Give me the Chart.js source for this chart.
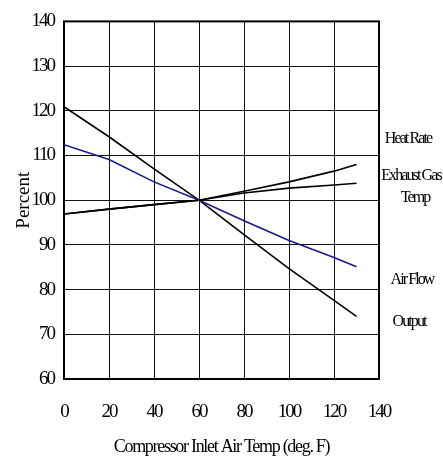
<!DOCTYPE html>
<html>
<head>
<meta charset="utf-8">
<script src="https://cdn.jsdelivr.net/npm/chart.js@4/dist/chart.umd.min.js"></script>
<style>
  html, body { margin: 0; padding: 0; background: #fff; }
  #wrap { width: 443px; height: 460px; }
</style>
</head>
<body>
<div id="wrap"><canvas id="c" width="443" height="460"></canvas></div>
<script>
// ---- data ----
const temps = [0, 20, 40, 60, 80, 100, 120, 130];
const heatRate = [96.9, 98.0, 99.0, 100, 102.0, 104.1, 106.5, 108.0];
const exhaustGasTemp = [96.9, 98.0, 99.0, 100, 101.6, 102.7, 103.4, 103.8];
const airFlow = [112.4, 109.1, 104.1, 100, 95.4, 91.0, 87.2, 85.1];
const output = [120.9, 114.2, 107.0, 100, 92.3, 84.7, 77.6, 74.0];
const xTicks = [0, 20, 40, 60, 80, 100, 120, 140];
const yTicks = [60, 70, 80, 90, 100, 110, 120, 130, 140];
const seriesLabels = ['Heat Rate', 'Exhaust Gas\nTemp', 'Air Flow', 'Output'];
const labelValues = [113.7, 103.0, 82.1, 72.7];

// ---- styling ----
const FONT = "'Liberation Serif', 'Times New Roman', serif";
const LS = { x: { ticks: '-2px', title: '-1.3px' }, y: { ticks: '-2px', title: '0px' } };
const labelXOffsets = [29, 32, 33, 30];

const origTitle = Chart.Scale.prototype.drawTitle;
Chart.Scale.prototype.drawTitle = function () {
  const ctx = this.ctx; ctx.save();
  if (LS[this.id]) ctx.letterSpacing = LS[this.id].title;
  origTitle.apply(this, arguments); ctx.restore();
};
const origLabels = Chart.Scale.prototype.drawLabels;
Chart.Scale.prototype.drawLabels = function () {
  const ctx = this.ctx; ctx.save();
  if (LS[this.id]) ctx.letterSpacing = LS[this.id].ticks;
  origLabels.apply(this, arguments); ctx.restore();
};

const pts = arr => temps.map((t, i) => ({ x: t, y: arr[i] }));

const framePlugin = {
  id: 'frame',
  beforeDatasetsDraw(chart) {
    const { ctx, chartArea: a } = chart;
    ctx.save();
    ctx.strokeStyle = '#000';
    ctx.lineWidth = 2;
    ctx.strokeRect(a.left, a.top, a.right - a.left, a.bottom - a.top);
    ctx.restore();
  }
};

const labelPlugin = {
  id: 'seriesLabels',
  afterDraw(chart) {
    const { ctx, chartArea: a } = chart;
    const y = chart.scales.y;
    ctx.save();
    ctx.font = '16px ' + FONT;
    ctx.letterSpacing = '-1.9px';
    ctx.fillStyle = '#000';
    ctx.textAlign = 'center';
    ctx.textBaseline = 'middle';
    seriesLabels.forEach((txt, i) => {
      const lines = txt.split('\n');
      const py = y.getPixelForValue(labelValues[i]);
      lines.forEach((ln, j) => {
        ctx.fillText(ln, a.right + labelXOffsets[i] + (j ? 4 : 0), py + (j - (lines.length - 1) / 2) * 22);
      });
    });
    ctx.restore();
  }
};

const lineDs = (label, data, color) => ({
  label, data: pts(data), borderColor: color, borderWidth: 1.6,
  pointRadius: 0, fill: false, tension: 0
});

new Chart(document.getElementById('c'), {
  type: 'line',
  data: {
    datasets: [
      lineDs('Heat Rate', heatRate, '#000'),
      lineDs('Exhaust Gas Temp', exhaustGasTemp, '#000'),
      lineDs('Air Flow', airFlow, '#1a1a8c'),
      lineDs('Output', output, '#000')
    ]
  },
  options: {
    responsive: false,
    animation: false,
    layout: { padding: { top: 20, right: 64, left: 0, bottom: 0 } },
    plugins: { legend: { display: false }, tooltip: { enabled: false } },
    scales: {
      x: {
        type: 'linear', min: 0, max: 140,
        afterBuildTicks: s => { s.ticks = xTicks.map(v => ({ value: v })); },
        afterFit: s => { s.height = 81; },
        grid: { color: '#111', lineWidth: 1, drawTicks: false },
        border: { display: false },
        ticks: { padding: 22, color: '#000', font: { family: FONT, size: 19 }, maxRotation: 0 },
        title: { display: true, text: 'Compressor Inlet Air Temp (deg. F)', color: '#000',
                 font: { family: FONT, size: 18 }, padding: { top: 0, bottom: 2 } }
      },
      y: {
        type: 'linear', min: 60, max: 140,
        afterBuildTicks: s => { s.ticks = yTicks.map(v => ({ value: v })); },
        afterFit: s => { s.width = 64; },
        grid: { color: '#111', lineWidth: 1, drawTicks: false },
        border: { display: false },
        ticks: { padding: 10, color: '#000', font: { family: FONT, size: 19 } },
        title: { display: true, text: 'Percent', color: '#000',
                 font: { family: FONT, size: 19 }, padding: { top: 13, bottom: 0 } }
      }
    }
  },
  plugins: [framePlugin, labelPlugin]
});
</script>
</body>
</html>
